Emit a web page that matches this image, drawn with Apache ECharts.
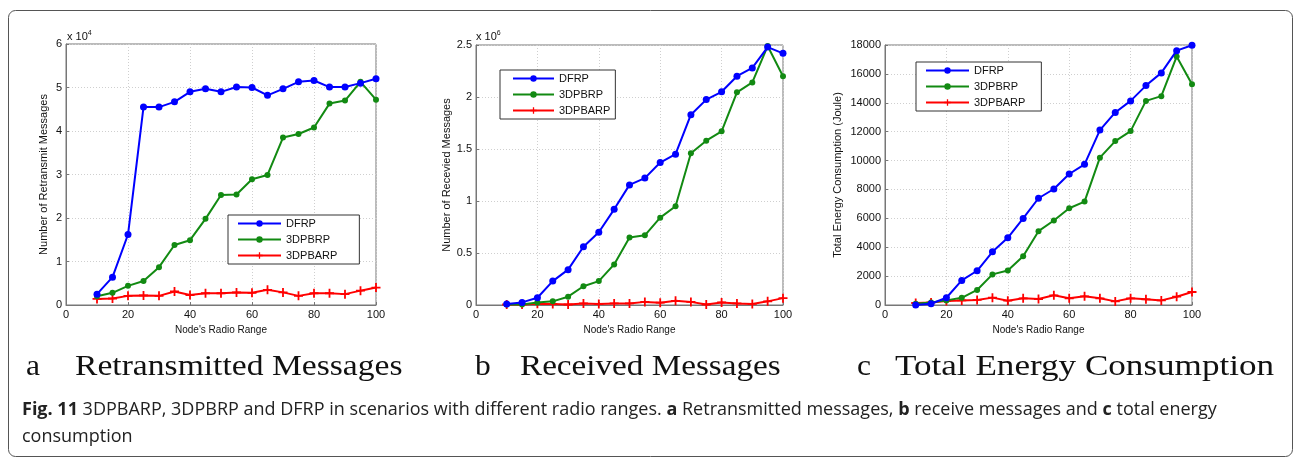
<!DOCTYPE html>
<html>
<head>
<meta charset="utf-8">
<script src="https://cdn.jsdelivr.net/npm/echarts@6/dist/echarts.min.js"></script>
<style>
html, body { margin: 0; padding: 0; background: #fff; }
#main { width: 1294px; height: 457px; }
</style>
</head>
<body>
<div id="main"></div>
<script>
var chartDom = document.getElementById('main');
var myChart = echarts.init(chartDom);
var option;

var radioRange = [10,15,20,25,30,35,40,45,50,55,60,65,70,75,80,85,90,95,100];
var seriesNames = ['DFRP', '3DPBRP', '3DPBARP'];

// (a) retransmitted messages, x 10^4
var retransDFRP   = [0.25,0.64,1.62,4.55,4.55,4.67,4.90,4.97,4.90,5.01,5.00,4.82,4.97,5.13,5.16,5.01,5.01,5.10,5.20];
var retrans3DPBRP = [0.20,0.28,0.44,0.55,0.87,1.38,1.49,1.98,2.53,2.54,2.89,2.99,3.85,3.93,4.08,4.63,4.70,5.13,4.72];
var retrans3DPBARP = [0.14,0.15,0.21,0.22,0.21,0.31,0.23,0.27,0.27,0.29,0.28,0.35,0.29,0.21,0.27,0.27,0.25,0.33,0.40];

// (b) received messages, x 10^6
var recvDFRP   = [0.01,0.025,0.07,0.23,0.34,0.56,0.70,0.92,1.155,1.22,1.37,1.45,1.83,1.975,2.05,2.20,2.28,2.48,2.42];
var recv3DPBRP = [0.005,0.005,0.025,0.035,0.08,0.18,0.23,0.39,0.65,0.67,0.84,0.95,1.46,1.58,1.67,2.045,2.14,2.49,2.20];
var recv3DPBARP = [0.005,0.005,0.012,0.01,0.005,0.015,0.01,0.015,0.015,0.03,0.022,0.04,0.03,0.005,0.025,0.015,0.01,0.035,0.066];

// (c) total energy consumption, Joule
var energyDFRP   = [0,90,500,1700,2370,3680,4650,5990,7390,8030,9070,9740,12110,13330,14130,15190,16070,17610,17980];
var energy3DPBRP = [90,180,320,500,1040,2120,2390,3380,5110,5850,6700,7160,10200,11350,12040,14130,14460,17200,15290];
var energy3DPBARP = [140,180,280,320,350,510,300,460,410,670,460,600,460,250,460,390,320,575,900];

var colors = ['#0000ff', '#128a12', '#ff0000'];
var plusPath = 'path://M4,0H6V4H10V6H6V10H4V6H0V4H4Z';
var font = 'Liberation Sans';

function pairs(ys) {
  return radioRange.map(function (x, i) { return [x, ys[i]]; });
}

function makeSeries(idx, ys, k) {
  var s = {
    name: seriesNames[k],
    type: 'line',
    xAxisIndex: idx,
    yAxisIndex: idx,
    data: pairs(ys),
    color: colors[k],
    lineStyle: { width: 2, color: colors[k] },
    itemStyle: { color: colors[k] },
    symbol: 'circle',
    symbolSize: k === 0 ? 7 : 6,
    animation: false,
    z: 5 - k
  };
  if (k === 2) {
    s.symbol = plusPath;
    s.symbolSize = 9;
  }
  return s;
}

function makeX(idx) {
  return {
    type: 'value', gridIndex: idx, min: 0, max: 100, interval: 20,
    name: "Node's Radio Range", nameLocation: 'middle', nameGap: 13,
    nameTextStyle: { fontFamily: font, fontSize: 10, color: '#111' },
    axisLine: { lineStyle: { color: '#777' } },
    axisTick: { inside: true, length: 3, lineStyle: { color: '#777' } },
    axisLabel: { fontFamily: font, fontSize: 11, color: '#111', margin: 4 },
    splitLine: { show: true, lineStyle: { color: '#cfcfcf', type: [1, 2] } }
  };
}

function makeY(idx, max, interval, name, gap) {
  return {
    type: 'value', gridIndex: idx, min: 0, max: max, interval: interval,
    name: name, nameLocation: 'middle', nameGap: gap,
    nameTextStyle: { fontFamily: font, fontSize: 11, color: '#111' },
    axisLine: { show: true, lineStyle: { color: '#777' } },
    axisTick: { show: true, inside: true, length: 3, lineStyle: { color: '#777' } },
    axisLabel: { fontFamily: font, fontSize: 11, color: '#111', margin: 4,
      formatter: function (v) { return String(v); } },
    splitLine: { show: true, lineStyle: { color: '#cfcfcf', type: [1, 2] } }
  };
}

function makeLegend(left, top, padding, itemWidth) {
  return {
    data: seriesNames, orient: 'vertical', left: left, top: top,
    itemWidth: itemWidth, itemHeight: 8, itemGap: 5,
    padding: padding,
    borderColor: '#333', borderWidth: 1, backgroundColor: '#fff', borderRadius: 0,
    textStyle: { fontFamily: font, fontSize: 11, color: '#111' }
  };
}

var serifCap = { fontFamily: 'Liberation Serif', fontSize: 30, fill: '#111', verticalAlign: 'middle' };
function serifText(x, sx, text) {
  return { type: 'text', x: x, y: 367, scaleX: sx, silent: true,
    style: Object.assign({ text: text }, serifCap) };
}
var supRich = {
  a: { fontFamily: font, fontSize: 11, fill: '#111' },
  s: { fontFamily: font, fontSize: 7, fill: '#111', verticalAlign: 'top', padding: [0, 0, 6, 0] }
};

option = {
  animation: false,
  backgroundColor: '#fff',
  grid: [
    { left: 66, top: 44, width: 310, height: 261, show: true, borderColor: '#777', borderWidth: 1 },
    { left: 476, top: 45, width: 307, height: 260, show: true, borderColor: '#777', borderWidth: 1 },
    { left: 885, top: 45, width: 307, height: 260, show: true, borderColor: '#777', borderWidth: 1 }
  ],
  xAxis: [makeX(0), makeX(1), makeX(2)],
  yAxis: [
    makeY(0, 6, 1, 'Number of Retransmit Messages', 17),
    makeY(1, 2.5, 0.5, 'Number of Recevied Messages', 24),
    makeY(2, 18000, 2000, 'Total Energy Consumption (Joule)', 42)
  ],
  legend: [
    makeLegend(228, 215, [3, 22, 3, 9], 43),
    makeLegend(500, 70, [3, 5, 3, 12], 41),
    makeLegend(916, 62, [3, 16, 3, 9], 43)
  ],
  series: [
    makeSeries(0, retransDFRP, 0), makeSeries(0, retrans3DPBRP, 1), makeSeries(0, retrans3DPBARP, 2),
    makeSeries(1, recvDFRP, 0), makeSeries(1, recv3DPBRP, 1), makeSeries(1, recv3DPBARP, 2),
    makeSeries(2, energyDFRP, 0), makeSeries(2, energy3DPBRP, 1), makeSeries(2, energy3DPBARP, 2)
  ],
  graphic: [
    { type: 'rect', silent: true, shape: { x: 8.5, y: 10.5, width: 1284, height: 446, r: 7 },
      style: { fill: 'none', stroke: '#555', lineWidth: 1 } },
    { type: 'text', left: 67, top: 30, style: { text: '{a|x 10}{s|4}', rich: supRich } },
    { type: 'text', left: 476, top: 30, style: { text: '{a|x 10}{s|6}', rich: supRich } },
    serifText(26, 1.05, 'a'),
    serifText(75, 1.12, 'Retransmitted Messages'),
    serifText(475, 1.05, 'b'),
    serifText(520, 1.106, 'Received Messages'),
    serifText(857, 1.05, 'c'),
    serifText(895, 1.17, 'Total Energy Consumption'),
    { type: 'text', left: 22, top: 396, silent: true, style: {
      text: '{b|Fig. 11} 3DPBARP, 3DPBRP and DFRP in scenarios with different radio ranges. {b|a} Retransmitted messages, {b|b} receive messages and {b|c} total energy\nconsumption',
      fontFamily: 'Open Sans', fontSize: 18, fill: '#222', lineHeight: 27,
      rich: { b: { fontFamily: 'Open Sans', fontSize: 18, fontWeight: 'bold', fill: '#222', lineHeight: 27 } } } }
  ]
};

option && myChart.setOption(option);
</script>
</body>
</html>
